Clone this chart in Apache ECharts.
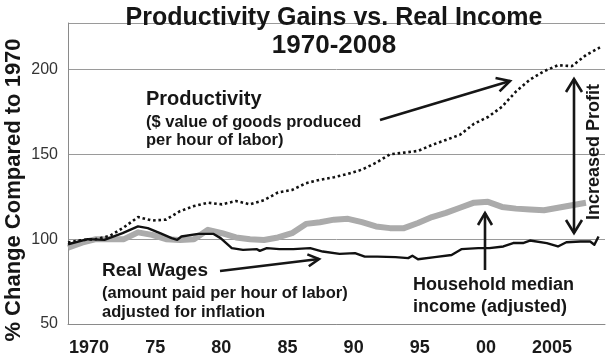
<!DOCTYPE html>
<html><head><meta charset="utf-8">
<script src="https://cdn.jsdelivr.net/npm/echarts@6/dist/echarts.min.js"></script>
<style>html,body{margin:0;padding:0;background:#fff}#c{width:610px;height:362px}</style>
</head><body><div id="c"></div>
<script>
// ---- data ----
const years = [1970,1971,1972,1973,1974,1975,1976,1977,1978,1979,1980,1981,1982,1983,1984,1985,1986,1987,1988,1989,1990,1991,1992,1993,1994,1995,1996,1997,1998,1999,2000,2001,2002,2003,2004,2005,2006,2007,2008];
const productivity = [98,99.5,100,102,107,113,111,111.5,116.5,119.5,121.5,120.5,122.5,120.5,123,127.5,129,133,135,136.5,138.5,141,145,150,151,152,155.5,158.5,161.5,168,172,178,187,194,199,202.5,202,208.5,213];
const incomeYears = [1970,1971,1972,1973,1974,1975,1976,1977,1978,1979,1980,1981,1982,1983,1984,1985,1986,1987,1988,1989,1990,1991,1992,1993,1994,1995,1996,1997,1998,1999,2000,2001,2002,2003,2004,2005,2006,2007];
const householdIncome = [95,98,100,100,100,104,102.5,100,99.5,100,105.5,103.5,101,100,99.5,101,103.5,109,110,111.5,112,110,107.5,106.5,106.5,109.5,113,115.5,118.5,121.5,122,119,118,117.5,117,118.5,120,121.5];
const wageYears = [1970.0,1971.4,1972.6,1973.9,1975.0,1975.7,1976.7,1977.4,1977.8,1978.1,1979.3,1980.4,1980.9,1981.7,1982.5,1983.5,1983.7,1984.2,1985.1,1986.1,1987.3,1988.2,1989.4,1990.5,1991.2,1992.1,1993.4,1994.3,1994.6,1995.0,1996.2,1997.4,1998.1,1999.3,2000.1,2001.1,2001.8,2002.5,2003.0,2004.2,2005.0,2005.6,2006.6,2007.3,2007.6,2007.9];
const realWages = [97,100,99.6,103.6,107.5,106.5,103.1,100.6,99.6,101.6,103.1,103.1,100.6,94.7,93.7,94.1,93.1,94.7,94.1,94.1,94.7,92.7,91.3,91.8,89.7,89.7,89.4,88.8,90.2,88.2,89.4,90.7,94.1,94.7,94.7,95.7,97.7,97.7,99.2,97.7,95.7,98.2,98.6,98.6,96.7,101.6];
const tickYears = [1970,1975,1980,1985,1990,1995,2000,2005];
const tickLabels = ['1970','75','80','85','90','95','00','2005'];
const yTickValues = [50,100,150,200];

// ---- chart ----
const FONT = 'Liberation Sans, Arial, sans-serif';
const INK = '#161616';
const chart = echarts.init(document.getElementById('c'), null, {renderer:'canvas'});

function arrowHead(x2,y2,a,len,half){
  return [[x2 - len*Math.cos(a) + half*Math.sin(a), y2 - len*Math.sin(a) - half*Math.cos(a)],[x2,y2],[x2 - len*Math.cos(a) - half*Math.sin(a), y2 - len*Math.sin(a) + half*Math.cos(a)]];
}
function arrow(x1,y1,x2,y2,len,half,both){
  const st = {stroke:INK, lineWidth:2.6, fill:null, lineJoin:'miter', lineCap:'butt'};
  const els = [{type:'line', shape:{x1,y1,x2,y2}, style:st, z:100}];
  const a = Math.atan2(y2-y1,x2-x1);
  els.push({type:'polyline', shape:{points:arrowHead(x2,y2,a,len,half)}, style:st, z:100});
  if(both){
    const b = Math.atan2(y1-y2,x1-x2);
    els.push({type:'polyline', shape:{points:arrowHead(x1,y1,b,len,half)}, style:st, z:100});
  }
  return els;
}
function txt(x,y,s,size,opts){
  return Object.assign({type:'text', x, y, z:100, style:Object.assign({text:s, fill:INK, font:'bold '+size+'px '+FONT, textAlign:'left', textVerticalAlign:'middle'}, (opts&&opts.style)||{})}, (opts&&opts.el)||{});
}

const graphics = [].concat(
  [txt(334,18,'Productivity Gains vs. Real Income',25,{style:{textAlign:'center'}}),
   txt(334,46,'1970-2008',26,{style:{textAlign:'center'}}),
   txt(14,190,'% Change Compared to 1970',22,{style:{textAlign:'center'}, el:{rotation:Math.PI/2}}),
   txt(146,99,'Productivity',20),
   txt(146,122,'($ value of goods produced',16.5),
   txt(146,140,'per hour of labor)',16.5),
   txt(102,271,'Real Wages',19),
   txt(102,293,'(amount paid per hour of labor)',16.5),
   txt(102,312,'adjusted for inflation',16.5),
   txt(413,285,'Household median',18),
   txt(413,307,'income (adjusted)',18),
   txt(594,152,'Increased Profit',18,{style:{textAlign:'center'}, el:{rotation:Math.PI/2}})
  ],
  arrow(380,120,510,81,13,7,false),
  arrow(220,271,319,259,11,6,false),
  arrow(485,270,485,213,12,7,false),
  arrow(574,233,574,79,13,8,true)
);

chart.setOption({
  backgroundColor:'#ffffff',
  animation:false,
  textStyle:{fontFamily:FONT},
  grid:{left:68, right:5, top:23, bottom:38, containLabel:false},
  xAxis:[
    {type:'value', min:1970, max:2008.36, position:'bottom',
     axisLine:{show:true, lineStyle:{color:'#8a8a8a', width:1}},
     axisTick:{show:false}, axisLabel:{show:false}, splitLine:{show:false}},
    {type:'value', min:1968.41, max:2009.0, position:'bottom',
     axisLine:{show:false}, axisTick:{show:false}, splitLine:{show:false},
     axisLabel:{show:true, customValues:tickYears, margin:15, color:'#1a1a1a', fontSize:18, fontWeight:'bold', fontFamily:FONT,
       formatter:function(v){const i=tickYears.indexOf(Math.round(v)); return i>=0?tickLabels[i]:'';}}}
  ],
  yAxis:{type:'value', min:50, max:227.4, interval:50,
    axisLine:{show:true, lineStyle:{color:'#8a8a8a', width:1}},
    axisTick:{show:false},
    axisLabel:{color:'#333', fontSize:16, margin:10, showMaxLabel:false,
      formatter:function(v){return yTickValues.indexOf(v)>=0?String(v):'';}},
    splitLine:{show:true, lineStyle:{color:'#9a9a9a', width:1}}},
  series:[
    {name:'Household median income', type:'line', xAxisIndex:0, showSymbol:false, symbol:'none',
     data:incomeYears.map((y,i)=>[y,householdIncome[i]]),
     lineStyle:{color:'#ababab', width:6, join:'round'}, z:2},
    {name:'Real Wages', type:'line', xAxisIndex:0, showSymbol:false, symbol:'none',
     data:wageYears.map((y,i)=>[y,realWages[i]]),
     lineStyle:{color:'#111', width:2.4, join:'round'}, z:3},
    {name:'Productivity', type:'line', xAxisIndex:0, showSymbol:false, symbol:'none',
     data:years.map((y,i)=>[y,productivity[i]]),
     lineStyle:{color:'#111', width:2.6, type:[2.6,2.8], cap:'butt'}, z:4}
  ],
  graphic:graphics
});
</script>
</body></html>
